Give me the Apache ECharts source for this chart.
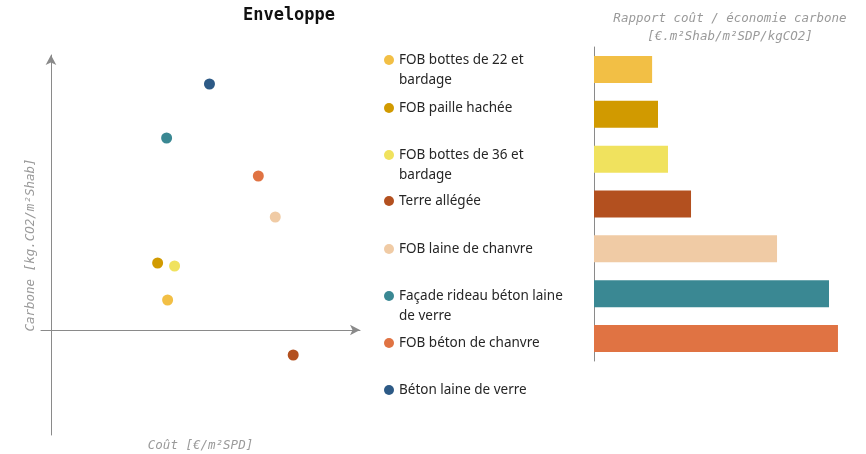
<!DOCTYPE html>
<html>
<head>
<meta charset="utf-8">
<script src="https://cdn.jsdelivr.net/npm/echarts@6/dist/echarts.min.js"></script>
<style>
  html, body { margin: 0; padding: 0; background: #fff; }
  #chart { width: 866px; height: 454px; }
</style>
</head>
<body>
<div id="chart"></div>
<script>
// Envelope solutions, in legend order
const names = [
  'FOB bottes de 22 et\nbardage',
  'FOB paille hachée',
  'FOB bottes de 36 et\nbardage',
  'Terre allégée',
  'FOB laine de chanvre',
  'Façade rideau béton laine\nde verre',
  'FOB béton de chanvre',
  'Béton laine de verre'
];
const colors = ['#f2bf45', '#d19a00', '#f0e25e', '#b3501f', '#f0cba5', '#3a8893', '#e07343', '#2d5a86'];

// Scatter: cost (x) vs carbone (y), relative units
const cost   = [117, 107, 124, 243, 225, 116, 208, 159];
const carbon = [30, 67, 64, -25, 113, 192, 154, 246];

// Bars: cost / carbon saving ratio (first seven solutions)
const ratio = [22.7, 25.0, 28.9, 37.9, 71.5, 91.8, 95.3];

// Vertical centre of each legend entry
const legendCentres = [60, 108, 155, 201, 249, 296, 343, 390];

const axisGrey = '#8a8a8a';
const monoItalic = {
  fontFamily: 'DejaVu Sans Mono',
  fontStyle: 'italic',
  fontSize: 12.5,
  color: '#9a9a9a'
};
const LH = 20;

// One legend per entry so each can sit at its own height; wrapped names get
// a blank first line so the marker lines up with their first line of text.
const legends = names.map((n, i) => {
  const multi = n.indexOf('\n') >= 0;
  return {
    data: [n],
    left: 384,
    top: multi ? legendCentres[i] - 1.5 * LH : legendCentres[i] - LH / 2,
    padding: 0,
    icon: 'circle',
    itemWidth: 10,
    itemHeight: 10,
    formatter: name => (name.indexOf('\n') >= 0 ? ' \n' + name : name),
    textStyle: {
      fontFamily: 'Noto Sans',
      fontSize: 13.5,
      color: '#262626',
      lineHeight: LH
    }
  };
});

const series = names.map((n, i) => ({
  type: 'scatter',
  name: n,
  xAxisIndex: 0,
  yAxisIndex: 0,
  symbolSize: 11,
  itemStyle: { color: colors[i], opacity: 1 },
  data: [[cost[i], carbon[i]]]
}));

series.push({
  type: 'bar',
  name: 'Rapport',
  xAxisIndex: 1,
  yAxisIndex: 1,
  barWidth: 27,
  data: ratio.map((v, i) => ({ value: v, itemStyle: { color: colors[i] } }))
});

const option = {
  animation: false,
  backgroundColor: '#fff',
  title: [
    {
      text: 'Enveloppe',
      left: 284,
      top: 2,
      textAlign: 'center',
      textStyle: { fontFamily: 'DejaVu Sans Mono', fontWeight: 'bold', fontSize: 17, color: '#111' }
    },
    {
      text: 'Rapport coût / économie carbone\n[€.m²Shab/m²SDP/kgCO2]',
      left: 725,
      top: 5,
      textAlign: 'center',
      textStyle: Object.assign({ lineHeight: 18, fontWeight: 'normal' }, monoItalic)
    }
  ],
  legend: legends,
  grid: [
    { left: 41, right: 506, top: 55, bottom: 19, outerBoundsMode: 'none' },
    { left: 594, right: 16, top: 47, bottom: 93, outerBoundsMode: 'none' }
  ],
  xAxis: [
    {
      gridIndex: 0,
      type: 'value',
      min: -10,
      max: 310,
      name: 'Coût [€/m²SPD]',
      nameLocation: 'middle',
      nameGap: 4,
      nameTextStyle: monoItalic,
      axisLine: { onZero: true, symbol: ['none', 'arrow'], symbolSize: [8, 10], lineStyle: { color: axisGrey, width: 1 } },
      axisTick: { show: false },
      axisLabel: { show: false },
      splitLine: { show: false }
    },
    {
      gridIndex: 1,
      type: 'value',
      min: 0,
      max: 100,
      axisLine: { show: false },
      axisTick: { show: false },
      axisLabel: { show: false },
      splitLine: { show: false }
    }
  ],
  yAxis: [
    {
      gridIndex: 0,
      type: 'value',
      min: -105,
      max: 275,
      name: 'Carbone [kg.CO2/m²Shab]',
      nameLocation: 'middle',
      nameGap: 4,
      nameTextStyle: monoItalic,
      axisLine: { onZero: true, symbol: ['none', 'arrow'], symbolSize: [8, 10], lineStyle: { color: axisGrey, width: 1 } },
      axisTick: { show: false },
      axisLabel: { show: false },
      splitLine: { show: false }
    },
    {
      gridIndex: 1,
      type: 'category',
      inverse: true,
      data: names.slice(0, ratio.length),
      axisLine: { show: true, lineStyle: { color: axisGrey, width: 1 } },
      axisTick: { show: false },
      axisLabel: { show: false },
      splitLine: { show: false }
    }
  ],
  series: series
};

const chart = echarts.init(document.getElementById('chart'), null, { renderer: 'canvas' });
chart.setOption(option);
</script>
</body>
</html>
